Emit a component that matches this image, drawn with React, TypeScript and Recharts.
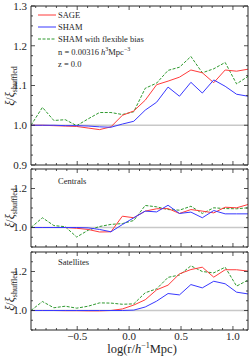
import React from "react"
import { Legend, Line, LineChart, ReferenceLine, XAxis, YAxis } from "recharts"

const FONT = '"Liberation Serif", "DejaVu Serif", serif'
const INK = "#262626"
const RED = "#ff3b3b"
const BLUE = "#3838ff"
const GREEN = "#2f9a2f"

// bin centres, log(r / h^-1 Mpc)
const logR = [
  -0.945, -0.835, -0.725, -0.615, -0.505, -0.395, -0.285, -0.175, -0.065, 0.045,
  0.155, 0.265, 0.375, 0.485, 0.595, 0.705, 0.815, 0.925, 1.035, 1.145,
]

const seriesNames = ["SAGE", "SHAM", "SHAM with flexible bias"]

// all galaxies
const allSage = [1.0, 1.0, 0.999, 0.998, 0.997, 0.993, 0.989, 0.996, 1.025, 1.036, 1.063, 1.102, 1.111, 1.121, 1.139, 1.132, 1.107, 1.139, 1.136, 1.141]
const allSham = [1.0, 1.0, 1.0, 0.999, 0.999, 0.998, 0.996, 0.995, 1.003, 1.01, 1.038, 1.058, 1.096, 1.073, 1.108, 1.081, 1.114, 1.098, 1.078, 1.073]
const allFlex = [1.0, 1.045, 1.012, 1.014, 0.999, 1.016, 1.032, 1.032, 1.027, 1.034, 1.093, 1.106, 1.138, 1.146, 1.173, 1.132, 1.142, 1.158, 1.104, 1.123]

// centrals
const cenSage = [1.0, 1.0, 1.0, 1.0, 0.996, 0.99, 0.977, 0.978, 1.058, 1.05, 1.084, 1.096, 1.097, 1.072, 1.092, 1.084, 1.075, 1.104, 1.101, 1.118]
const cenSham = [1.0, 1.0, 1.0, 1.0, 1.0, 0.998, 0.99, 0.978, 1.015, 1.05, 1.084, 1.08, 1.114, 1.072, 1.079, 1.05, 1.087, 1.07, 1.07, 1.07]
const cenFlex = [1.0, 1.05, 1.01, 1.004, 0.951, 0.986, 1.005, 1.016, 1.02, 1.036, 1.113, 1.106, 1.092, 1.089, 1.109, 1.072, 1.101, 1.097, 1.096, 1.101]

// satellites
const satSage = [1.0, 1.0, 1.0, 0.999, 0.999, 0.998, 0.998, 1.0, 1.008, 1.028, 1.055, 1.106, 1.13, 1.188, 1.21, 1.222, 1.171, 1.209, 1.209, 1.202]
const satSham = [1.0, 1.0, 1.0, 1.0, 1.0, 1.0, 1.0, 1.0, 1.0, 1.002, 1.018, 1.048, 1.087, 1.08, 1.133, 1.116, 1.15, 1.137, 1.094, 1.085]
const satFlex = [1.0, 1.046, 1.014, 1.022, 1.012, 1.022, 1.039, 1.038, 1.032, 1.034, 1.091, 1.111, 1.17, 1.182, 1.229, 1.2, 1.193, 1.222, 1.125, 1.156]

const xTicks = [-0.9, -0.8, -0.7, -0.6, -0.5, -0.4, -0.3, -0.2, -0.1, 0, 0.1, 0.2, 0.3, 0.4, 0.5, 0.6, 0.7, 0.8, 0.9, 1.0, 1.1]
const yTicksTop = [0.9, 0.925, 0.95, 0.975, 1.0, 1.025, 1.05, 1.075, 1.1, 1.125, 1.15, 1.175, 1.2, 1.225, 1.25, 1.275, 1.3]
const yTicksLow = [0.9, 0.95, 1.0, 1.05, 1.1, 1.15, 1.2, 1.25, 1.3]

const rows = (a: number[], b: number[], c: number[]) =>
  logR.map((x, i) => ({ x, sage: a[i], sham: b[i], flex: c[i] }))

const near = (v: number, k: number) => Math.abs(v * k - Math.round(v * k)) < 1e-6
const xMajor = (v: number) => near(v, 2)
const topMajor = (v: number) => near(v, 10)
const lowMajor = (v: number) => Math.abs(v - 1) < 1e-6 || Math.abs(v - 1.2) < 1e-6
const fmt = (v: number) => (v < -1e-9 ? "\u2212" : "") + Math.abs(v).toFixed(1)

const xTick = (side: "b" | "t", labels: boolean) => (p: any) => {
  const v = p.payload.value
  const len = xMajor(v) ? 4 : 2
  const dir = side === "b" ? -1 : 1
  return (
    <g>
      <line x1={p.x} x2={p.x} y1={p.y} y2={p.y + dir * len} stroke={INK} strokeWidth={0.8} />
      {labels && xMajor(v) && (
        <text x={p.x} y={p.y + 9.5} textAnchor="middle" fontFamily={FONT} fontSize={11} fill={INK}>
          {fmt(v)}
        </text>
      )}
    </g>
  )
}

const yTick = (side: "l" | "r", major: (v: number) => boolean) => (p: any) => {
  const v = p.payload.value
  const len = major(v) ? 4 : 2
  const dir = side === "l" ? 1 : -1
  return (
    <g>
      <line x1={p.x} x2={p.x + dir * len} y1={p.y} y2={p.y} stroke={INK} strokeWidth={0.8} />
      {side === "l" && major(v) && (
        <text x={p.x - 4} y={p.y} dy="0.35em" textAnchor="end" fontFamily={FONT} fontSize={11} fill={INK}>
          {fmt(v)}
        </text>
      )}
    </g>
  )
}

const topLegend = () => (
  <div style={{ fontFamily: FONT, fontSize: 8.5, color: INK, lineHeight: "12px" }}>
    {seriesNames.map((name, i) => (
      <div key={name} style={{ display: "flex", alignItems: "center", height: 12 }}>
        <svg width={20} height={12}>
          <line
            x1={1}
            x2={19}
            y1={6}
            y2={6}
            stroke={[RED, BLUE, GREEN][i]}
            strokeWidth={1}
            strokeDasharray={i === 2 ? "3 1.5" : undefined}
          />
        </svg>
        <span style={{ marginLeft: 1 }}>{name}</span>
      </div>
    ))}
    <div style={{ paddingLeft: 21, marginTop: 1, height: 12 }}>
      n = 0.00316 <i>h</i>
      <span style={{ fontSize: 6, verticalAlign: "4px", lineHeight: 0 }}>3</span>Mpc
      <span style={{ fontSize: 6, verticalAlign: "4px", lineHeight: 0 }}>{"\u22123"}</span>
    </div>
    <div style={{ paddingLeft: 21, height: 12 }}>z = 0.0</div>
  </div>
)

const noteLegend = (text: string) => () => (
  <div style={{ fontFamily: FONT, fontSize: 8.5, color: INK, lineHeight: "12px" }}>{text}</div>
)

type PanelProps = {
  top: number
  height: number
  plotTop: number
  plotBottom: number
  data: { x: number; sage: number; sham: number; flex: number }[]
  yTicks: number[]
  yMajor: (v: number) => boolean
  xLabels: boolean
  legend: () => React.ReactElement
  legendPos: { left: number; top: number }
}

// plotTop / plotBottom: distance of the frame from the panel's top / bottom edge
function Panel({ top, height, plotTop, plotBottom, data, yTicks, yMajor, xLabels, legend, legendPos }: PanelProps) {
  const plotH = height - plotTop - plotBottom
  const cy = plotTop + plotH / 2
  return (
    <div style={{ position: "absolute", left: 0, top, width: 249, height }}>
      <LineChart
        width={249}
        height={height}
        data={data}
        margin={{ top: plotTop - 1, right: 0, bottom: plotBottom - 1, left: 30 }}
      >
        <XAxis
          xAxisId="b"
          dataKey="x"
          type="number"
          domain={[-0.945, 1.145]}
          allowDataOverflow
          ticks={xTicks}
          interval={0}
          height={1}
          tickSize={0}
          tickMargin={0}
          tickLine={false}
          axisLine={{ stroke: INK, strokeWidth: 1 }}
          tick={xTick("b", xLabels)}
          label={
            xLabels
              ? {
                  content: () => (
                    <text x={142} y={plotTop + plotH + 22.5} textAnchor="middle" fontFamily={FONT} fontSize={12.5} fill={INK}>
                      log(r/<tspan fontStyle="italic">h</tspan>
                      <tspan fontSize={8} dy={-5}>{"\u22121"}</tspan>
                      <tspan dy={5}>Mpc)</tspan>
                    </text>
                  ),
                }
              : undefined
          }
        />
        <XAxis
          xAxisId="t"
          orientation="top"
          dataKey="x"
          type="number"
          domain={[-0.945, 1.145]}
          allowDataOverflow
          ticks={xTicks}
          interval={0}
          height={1}
          tickSize={0}
          tickMargin={0}
          tickLine={false}
          axisLine={{ stroke: INK, strokeWidth: 1 }}
          tick={xTick("t", false)}
        />
        <YAxis
          yAxisId="l"
          type="number"
          domain={[0.9, 1.3]}
          allowDataOverflow
          ticks={yTicks}
          interval={0}
          width={1}
          tickSize={0}
          tickMargin={0}
          tickLine={false}
          axisLine={{ stroke: INK, strokeWidth: 1 }}
          tick={yTick("l", yMajor)}
        />
        <YAxis
          yAxisId="r"
          orientation="right"
          type="number"
          domain={[0.9, 1.3]}
          allowDataOverflow
          ticks={yTicks}
          interval={0}
          width={1}
          tickSize={0}
          tickMargin={0}
          tickLine={false}
          axisLine={{ stroke: INK, strokeWidth: 1 }}
          tick={yTick("r", yMajor)}
        />
        <ReferenceLine xAxisId="b" yAxisId="l" y={1} stroke="#c8c8c8" strokeWidth={1.6} ifOverflow="visible" />
        <Line
          xAxisId="b"
          yAxisId="l"
          type="linear"
          dataKey="flex"
          stroke={GREEN}
          strokeWidth={1}
          strokeDasharray="3 1.5"
          dot={false}
          isAnimationActive={false}
        />
        <Line xAxisId="b" yAxisId="l" type="linear" dataKey="sage" stroke={RED} strokeWidth={1} dot={false} isAnimationActive={false} />
        <Line xAxisId="b" yAxisId="l" type="linear" dataKey="sham" stroke={BLUE} strokeWidth={1} dot={false} isAnimationActive={false} />
        <Legend
          layout="horizontal"
          verticalAlign="middle"
          align="center"
          content={legend}
          wrapperStyle={{ left: legendPos.left, top: legendPos.top, width: "auto", height: "auto" }}
        />
      </LineChart>
      {/* rotated y label, centred on the panel */}
      <div
        style={{
          position: "absolute",
          left: 10,
          top: cy,
          transform: "translate(-50%, -50%) rotate(-90deg)",
          whiteSpace: "nowrap",
          fontFamily: FONT,
          fontSize: 12,
          lineHeight: "14px",
          color: INK,
        }}
      >
        <i>ξ</i>/<i>ξ</i>
        <span style={{ fontSize: 8, verticalAlign: "-3px", lineHeight: 0 }}>shuffled</span>
      </div>
    </div>
  )
}

export default function App() {
  return (
    <div style={{ position: "relative", width: 249, height: 358, background: "#fff" }}>
      <style>{"body{margin:0} svg.recharts-surface{overflow:visible !important}"}</style>
      <Panel
        top={0}
        height={167}
        plotTop={6}
        plotBottom={2}
        data={rows(allSage, allSham, allFlex)}
        yTicks={yTicksTop}
        yMajor={topMajor}
        xLabels={false}
        legend={topLegend}
        legendPos={{ left: 37, top: 9 }}
      />
      <Panel
        top={167}
        height={82}
        plotTop={2}
        plotBottom={2}
        data={rows(cenSage, cenSham, cenFlex)}
        yTicks={yTicksLow}
        yMajor={lowMajor}
        xLabels={false}
        legend={noteLegend("Centrals")}
        legendPos={{ left: 58, top: 8 }}
      />
      <Panel
        top={249}
        height={109}
        plotTop={3}
        plotBottom={28}
        data={rows(satSage, satSham, satFlex)}
        yTicks={yTicksLow}
        yMajor={lowMajor}
        xLabels={true}
        legend={noteLegend("Satellites")}
        legendPos={{ left: 58, top: 7 }}
      />
    </div>
  )
}
